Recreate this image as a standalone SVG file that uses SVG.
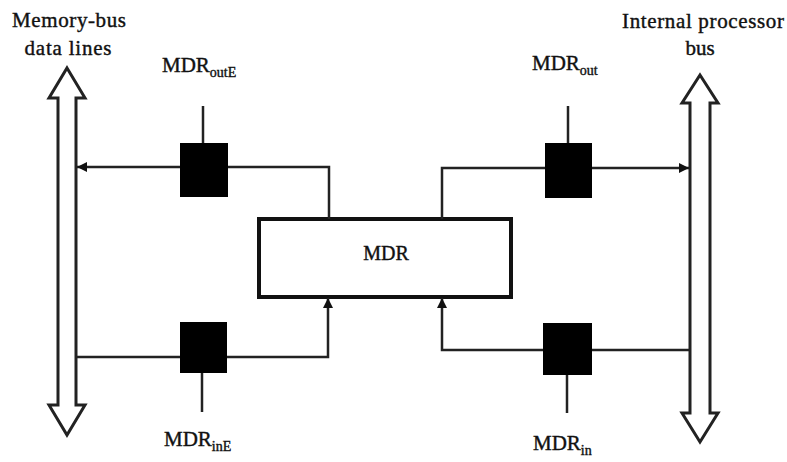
<svg xmlns="http://www.w3.org/2000/svg" width="787" height="462" viewBox="0 0 787 462">
<style>
.t{font-family:"Liberation Serif","Times New Roman",serif;fill:#111;stroke:#111;stroke-width:0.4}
.bus{fill:#fff;stroke:#222;stroke-width:3;stroke-linejoin:miter}
.w{fill:none;stroke:#222;stroke-width:2.5}
.sw{fill:#000}
</style>
<defs>
<marker id="ah" viewBox="0 0 10 10" refX="10" refY="5" markerWidth="5" markerHeight="4" orient="auto" markerUnits="strokeWidth">
<path d="M0,0 L10,5 L0,10 z" fill="#111"/>
</marker>
</defs>
<rect width="787" height="462" fill="#fff"/>
<g id="memory-bus">
<polygon class="bus" points="67,68 85,98 76,98 76,405 85,405 67,435 49,405 58,405 58,98 49,98"/>
<text class="t" x="69" y="27" font-size="21" text-anchor="middle" textLength="114">Memory-bus</text>
<text class="t" x="68" y="55" font-size="21" text-anchor="middle" textLength="87">data lines</text>
</g>
<g id="processor-bus">
<polygon class="bus" points="700,75 718,103 710,103 710,413 718,413 700,442 682,413 690,413 690,103 682,103"/>
<text class="t" x="703" y="28" font-size="21" text-anchor="middle" textLength="162">Internal processor</text>
<text class="t" x="700" y="55" font-size="21" text-anchor="middle">bus</text>
</g>
<g id="mdr">
<rect x="259" y="219" width="252" height="78" fill="#fff" stroke="#111" stroke-width="4"/>
<text class="t" x="386" y="260" font-size="20" text-anchor="middle">MDR</text>
</g>
<g id="sw-outE">
<rect class="sw" x="180" y="143" width="48" height="54"/>
<text class="t" x="162" y="72" font-size="21">MDR<tspan font-size="14" dy="5">outE</tspan></text>
</g>
<g id="sw-out">
<rect class="sw" x="545" y="143" width="47" height="55"/>
<text class="t" x="532" y="70" font-size="21">MDR<tspan font-size="14" dy="5">out</tspan></text>
</g>
<g id="sw-inE">
<rect class="sw" x="180" y="322" width="47" height="51"/>
<text class="t" x="164" y="446" font-size="21">MDR<tspan font-size="14" dy="5">inE</tspan></text>
</g>
<g id="sw-in">
<rect class="sw" x="543" y="323" width="49" height="52"/>
<text class="t" x="533" y="450" font-size="21">MDR<tspan font-size="14" dy="5">in</tspan></text>
</g>
<g id="connectors">
<path class="w" d="M203,106 V143"/>
<path class="w" d="M568,106 V143"/>
<path class="w" d="M202,373 V412"/>
<path class="w" d="M567,375 V413"/>
<path class="w" d="M329,219 V167 H228"/>
<path class="w" d="M180,167 H77" marker-end="url(#ah)"/>
<path class="w" d="M442,219 V168 H545"/>
<path class="w" d="M592,168 H689" marker-end="url(#ah)"/>
<path class="w" d="M77,357 H180"/>
<path class="w" d="M227,357 H328 V298" marker-end="url(#ah)"/>
<path class="w" d="M690,350 H592"/>
<path class="w" d="M543,350 H442 V298" marker-end="url(#ah)"/>
</g>
</svg>
